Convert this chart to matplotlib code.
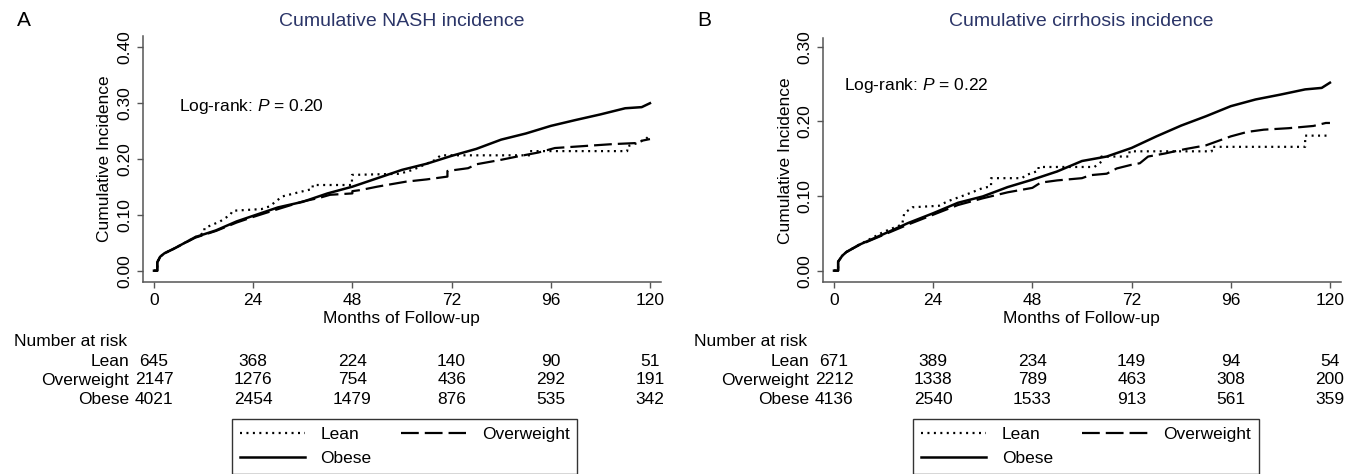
import matplotlib
matplotlib.use('Agg')
import matplotlib.pyplot as plt
import matplotlib.transforms as mtransforms

plt.rcParams['font.family'] = ['Liberation Sans', 'DejaVu Sans']
plt.rcParams['mathtext.fontset'] = 'custom'
plt.rcParams['mathtext.rm'] = 'Liberation Sans'
plt.rcParams['mathtext.it'] = 'Liberation Sans:italic'

# follow-up months shown on the axis / risk table
months = [0, 24, 48, 72, 96, 120]
groups = ['Lean', 'Overweight', 'Obese']

# --- panel A: NASH (repeated times = vertical jumps) ---
nash_lean_t = [0, 0.8, 0.8, 1.5, 2.5, 5, 10, 12.2, 12.2, 16, 18.5, 19, 26, 28, 31, 35,
               38.4, 38.4, 47.9, 47.9, 59.4, 62.6, 65.7, 67.8, 69.4, 91, 91, 114.5,
               114.5, 117, 119, 120]
nash_lean_y = [0, 0, 0.015, 0.025, 0.031, 0.040, 0.060, 0.068, 0.076, 0.088, 0.100, 0.107,
               0.110, 0.115, 0.1325, 0.140, 0.146, 0.153, 0.153, 0.171, 0.173, 0.180,
               0.190, 0.197, 0.206, 0.206, 0.2135, 0.2135, 0.222, 0.228, 0.235, 0.242]
nash_over_t = [0, 0.8, 0.8, 1.5, 2.5, 5, 10, 15, 20, 24, 30, 36, 40, 42.6, 48, 48, 50, 54,
               56.3, 61, 66, 71, 71, 76, 78, 84, 88, 93, 97, 103, 111, 117, 118, 120]
nash_over_y = [0, 0, 0.015, 0.025, 0.031, 0.040, 0.059, 0.071, 0.086, 0.096, 0.110, 0.1236,
               0.130, 0.1355, 0.138, 0.142, 0.144, 0.150, 0.153, 0.159, 0.163, 0.168, 0.178,
               0.183, 0.190, 0.198, 0.204, 0.211, 0.219, 0.222, 0.226, 0.228, 0.232, 0.235]
nash_obese_t = [0, 0.8, 0.8, 1.5, 2.5, 5, 10, 15, 20, 24, 30, 36, 42, 48, 54, 60, 66, 72,
                78, 84, 90, 96, 102, 108, 114, 118, 120]
nash_obese_y = [0, 0, 0.015, 0.025, 0.031, 0.040, 0.060, 0.072, 0.088, 0.098, 0.113, 0.123,
                0.138, 0.150, 0.165, 0.180, 0.191, 0.205, 0.2175, 0.234, 0.245, 0.2585,
                0.269, 0.279, 0.290, 0.292, 0.299]
nash_risk_lean = [645, 368, 224, 140, 90, 51]
nash_risk_over = [2147, 1276, 754, 436, 292, 191]
nash_risk_obese = [4021, 2454, 1479, 876, 535, 342]

# --- panel B: cirrhosis ---
cirr_lean_t = [0, 1, 1, 2, 3, 6, 12, 16.5, 17, 19, 25.4, 27.5, 32, 36, 38, 38, 45.5, 46.4,
               49.5, 49.5, 63, 64.7, 64.7, 71.5, 71.5, 91.4, 91.4, 114, 114, 120]
cirr_lean_y = [0, 0, 0.012, 0.020, 0.025, 0.0345, 0.052, 0.062, 0.077, 0.085, 0.087, 0.093,
               0.102, 0.1108, 0.113, 0.124, 0.124, 0.128, 0.134, 0.139, 0.139, 0.146,
               0.153, 0.153, 0.160, 0.160, 0.166, 0.166, 0.181, 0.181]
cirr_over_t = [0, 1, 1, 2, 3, 6, 12, 18, 24, 30, 36, 42, 48, 50, 54, 60, 62, 66, 68.4, 72,
               74, 76, 80, 85, 90, 92, 96, 100, 104, 110, 116, 119, 120]
cirr_over_y = [0, 0, 0.012, 0.020, 0.025, 0.034, 0.048, 0.062, 0.075, 0.088, 0.097, 0.105,
               0.111, 0.118, 0.121, 0.124, 0.128, 0.130, 0.137, 0.142, 0.144, 0.153, 0.157,
               0.163, 0.168, 0.172, 0.180, 0.186, 0.189, 0.191, 0.194, 0.198, 0.198]
cirr_obese_t = [0, 1, 1, 2, 3, 6, 12, 18, 24, 30, 36, 42, 48, 54, 60, 66, 72, 78, 84, 90, 96,
                102, 108, 114, 118, 120]
cirr_obese_y = [0, 0, 0.012, 0.020, 0.025, 0.0345, 0.049, 0.064, 0.077, 0.091, 0.0995, 0.112,
                0.122, 0.133, 0.147, 0.153, 0.1645, 0.180, 0.1945, 0.207, 0.2205, 0.2295,
                0.236, 0.243, 0.245, 0.252]
cirr_risk_lean = [671, 389, 234, 149, 94, 54]
cirr_risk_over = [2212, 1338, 789, 463, 308, 200]
cirr_risk_obese = [4136, 2540, 1533, 913, 561, 359]

W, H = 1357, 474
fig = plt.figure(figsize=(W / 100, H / 100), dpi=100)

fs = 12.5
spine_col = '#555555'
lw = 1.6
dotted = (0, (0.9, 2.0))
dashed = (0, (8, 2.7))


def fy(py):
    return 1 - py / H


def panel(left_px, top_px, ylim, yticks, title, letter, p_text, p_pos,
          lean, over, obese, risks, legend_x):
    ax = fig.add_axes([left_px / W, fy(282.3), 518 / W, (282.3 - top_px) / H])
    h_lean, = ax.plot(lean[0], lean[1], color='black', lw=lw, ls=dotted, label='Lean')
    h_over, = ax.plot(over[0], over[1], color='black', lw=lw, ls=dashed, label='Overweight')
    h_obese, = ax.plot(obese[0], obese[1], color='black', lw=lw + 0.2, label='Obese')

    ax.set_xlim(-2.73, 122.6)
    ax.set_ylim(*ylim)
    ax.set_xticks(months)
    ax.set_yticks(yticks)
    ax.set_yticklabels([f'{v:.2f}' for v in yticks], rotation=90, va='center')
    for s in ['top', 'right']:
        ax.spines[s].set_visible(False)
    for s in ['left', 'bottom']:
        ax.spines[s].set_color(spine_col)
        ax.spines[s].set_linewidth(1.1)
    ax.tick_params(direction='out', length=4.5, width=1.0, color=spine_col,
                   labelsize=fs, pad=3)

    ax.set_xlabel('Months of Follow-up', fontsize=fs, va='center')
    ax.xaxis.set_label_coords(0.5, -(319 - 282.3) / (282.3 - top_px))
    ax.set_ylabel('Cumulative Incidence', fontsize=fs, va='center')
    ax.yaxis.set_label_coords(-37.7 / 518, 0.5)

    ax.text(p_pos[0], p_pos[1], p_text, fontsize=fs, ha='left', va='center')

    tr_ax = mtransforms.blended_transform_factory(ax.transAxes, fig.transFigure)
    tr_dat = mtransforms.blended_transform_factory(ax.transData, fig.transFigure)
    fig.text(0.5, fy(21), title, transform=tr_ax, ha='center', va='center',
             fontsize=14, color='#2b3568')
    fig.text(-125.7 / 518, fy(20), letter, transform=tr_ax, ha='left', va='center',
             fontsize=15)

    fig.text(-128.7 / 518, fy(342), 'Number at risk', transform=tr_ax,
             ha='left', va='center', fontsize=fs)
    rows_y = [361, 380, 399]
    for g, r, py in zip(groups, risks, rows_y):
        fig.text(-6.05, fy(py), g, transform=tr_dat, ha='right', va='center', fontsize=fs)
        for m, n in zip(months, r):
            fig.text(m, fy(py), str(n), transform=tr_dat, ha='center', va='center',
                     fontsize=fs)

    fig.legend([h_lean, h_obese, h_over], ['Lean', 'Obese', 'Overweight'], ncol=2,
               loc='upper center', bbox_to_anchor=(legend_x / W, fy(419)),
               borderaxespad=0, frameon=True, fancybox=False, edgecolor='#333333',
               framealpha=1, fontsize=fs, handlelength=3.75, handletextpad=0.9,
               columnspacing=1.7, borderpad=0.45, labelspacing=0.5)
    return ax


panel(142.7, 36, (-0.0207, 0.419), [0, 0.1, 0.2, 0.3, 0.4],
      'Cumulative NASH incidence', 'A', r'Log-rank: $P$ = 0.20', (6.0, 0.294),
      (nash_lean_t, nash_lean_y), (nash_over_t, nash_over_y),
      (nash_obese_t, nash_obese_y),
      [nash_risk_lean, nash_risk_over, nash_risk_obese], 404.5)

panel(822.7, 38.3, (-0.0156, 0.3115), [0, 0.1, 0.2, 0.3],
      'Cumulative cirrhosis incidence', 'B', r'Log-rank: $P$ = 0.22', (2.4, 0.2486),
      (cirr_lean_t, cirr_lean_y), (cirr_over_t, cirr_over_y),
      (cirr_obese_t, cirr_obese_y),
      [cirr_risk_lean, cirr_risk_over, cirr_risk_obese], 1086)

fig.savefig('out.png', dpi=100)
